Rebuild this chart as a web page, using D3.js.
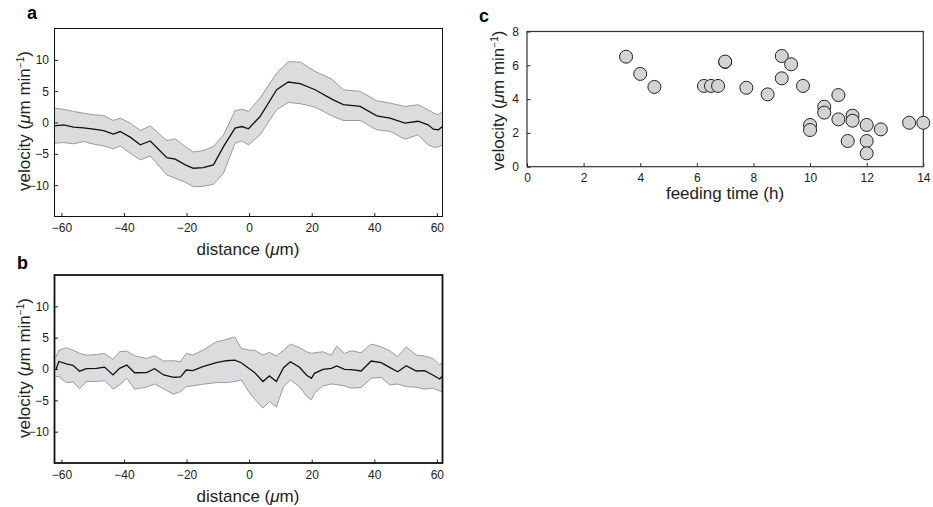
<!DOCTYPE html>
<html>
<head>
<meta charset="utf-8">
<script src="https://cdn.jsdelivr.net/npm/d3@7"></script>
<style>
  body { margin: 0; background: #fff; }
  svg { display: block; font-family: "Liberation Sans", Arial, sans-serif; }
</style>
</head>
<body>
<div id="chart"></div>
<script>
// panel a: velocity profile, mean and band
const aDist = [-62.2, -59.3, -56.1, -52.9, -49.7, -46.5, -43.4, -41.2, -38.0, -34.8, -31.6, -26.3, -23.6, -20.4, -17.8, -14.7, -11.4, -8.2, -4.5, -2.3, -0.2, 3.5, 8.8, 12.5, 16.3, 21.1, 26.4, 30.1, 35.5, 40.8, 45.0, 49.8, 54.0, 57.2, 58.9, 60.5, 61.8];
const aMean = [-0.55, -0.37, -0.74, -0.85, -1.06, -1.28, -1.86, -1.44, -2.34, -3.57, -2.95, -5.6, -5.86, -6.77, -7.3, -7.2, -6.77, -3.84, -0.9, -0.64, -1.0, 0.96, 5.23, 6.46, 6.19, 5.23, 3.74, 2.85, 2.56, 1.07, 0.7, -0.1, 0.2, -0.37, -1.06, -1.17, -0.64];
const aUpper = [2.3, 2.1, 1.76, 1.5, 1.23, 1.12, 0.32, 0.7, -0.1, -1.28, -0.53, -2.9, -2.6, -3.84, -4.7, -4.5, -3.84, -2.0, 1.87, 2.14, 1.76, 3.9, 7.9, 9.7, 9.66, 8.16, 6.94, 5.23, 4.96, 3.47, 3.1, 2.56, 2.83, 2.03, 1.5, 1.23, 1.76];
const aLower = [-3.3, -3.2, -3.4, -3.04, -3.46, -3.73, -4.2, -3.73, -4.9, -5.97, -5.33, -8.37, -8.9, -9.54, -10.24, -10.2, -9.86, -8.1, -3.3, -2.93, -3.57, -1.97, 2.03, 3.2, 3.0, 2.46, 1.07, 0.32, 0.32, -1.17, -1.4, -2.66, -1.97, -3.57, -3.94, -3.9, -3.57];

// panel b
const bDist = [-61.8, -60.8, -58.4, -56.3, -54.2, -52.0, -48.8, -46.2, -43.5, -41.4, -39.1, -36.6, -32.8, -30.2, -27.3, -24.1, -21.9, -20.1, -18.0, -14.8, -10.5, -7.3, -4.6, -2.5, 0.2, 1.8, 4.4, 6.5, 8.7, 11.0, 13.2, 16.1, 18.4, 19.9, 20.9, 23.6, 26.3, 28.0, 30.5, 32.7, 35.8, 39.0, 42.2, 44.9, 47.5, 50.2, 53.4, 56.1, 58.7, 60.9, 61.8];
const bMean = [-0.16, 1.2, 0.8, 0.6, -0.35, 0.05, 0.1, 0.3, -0.95, 0.1, 0.63, -0.6, -0.58, 0.05, -0.95, -1.32, -1.27, -0.16, -0.26, 0.37, 1.0, 1.32, 1.43, 1.0, 0.0, -0.58, -2.0, -1.11, -2.0, 0.2, 1.16, 0.27, -1.0, -1.48, -0.69, -0.05, 0.1, 0.48, -0.05, -0.1, -0.32, 1.27, 1.0, 0.27, -0.45, 0.53, -0.32, -0.26, -0.95, -1.59, -1.11];
const bUpper = [1.9, 3.0, 3.4, 3.0, 2.5, 2.2, 2.3, 2.49, 1.54, 2.75, 2.86, 2.12, 1.69, 2.12, 1.27, 1.32, 1.16, 2.49, 2.22, 3.0, 4.33, 4.7, 5.13, 3.28, 3.0, 3.0, 2.22, 2.65, 2.06, 3.0, 3.97, 3.44, 2.75, 2.49, 2.59, 2.75, 2.22, 3.65, 2.49, 2.91, 2.59, 3.97, 3.55, 2.91, 1.96, 3.55, 2.22, 2.06, 1.69, 0.63, 1.16];
const bLower = [-1.2, -1.22, -2.17, -2.06, -3.17, -2.0, -2.0, -1.85, -3.22, -2.54, -1.48, -3.22, -2.9, -2.38, -3.17, -4.02, -3.6, -2.8, -2.7, -2.43, -2.17, -2.17, -2.0, -1.75, -3.86, -4.8, -6.24, -5.19, -6.08, -2.8, -1.75, -2.8, -4.39, -4.92, -3.86, -2.7, -2.38, -2.5, -2.7, -3.06, -2.95, -1.48, -1.32, -2.54, -2.4, -2.8, -2.9, -3.22, -3.06, -3.5, -3.6];

// panel c: velocity vs feeding time
const feedTime = [3.5, 4.0, 4.5, 6.25, 6.5, 6.75, 7.0, 7.0, 7.75, 8.5, 9.0, 9.33, 9.0, 9.75, 10.0, 10.0, 10.5, 10.5, 11.0, 11.0, 11.33, 11.5, 11.5, 12.0, 12.0, 12.0, 12.5, 13.5, 14.0];
const feedVel = [6.51, 5.49, 4.72, 4.78, 4.78, 4.78, 6.2, 6.22, 4.67, 4.28, 6.55, 6.06, 5.23, 4.78, 2.47, 2.17, 3.55, 3.2, 4.24, 2.8, 1.52, 3.02, 2.72, 2.47, 1.52, 0.79, 2.21, 2.6, 2.6];

const distTicks = [-60, -40, -20, 0, 20, 40, 60];
const velTicks = [-10, -5, 0, 5, 10];
const timeTicks = [0, 2, 4, 6, 8, 10, 12, 14];
const feedVelTicks = [0, 2, 4, 6, 8];

const svg = d3.select("#chart")
    .append("svg")
    .attr("width", 933)
    .attr("height", 507);

function velocityTitle(x, y) {
    const t = svg.append("text")
        .attr("transform", `translate(${x},${y}) rotate(-90)`)
        .attr("text-anchor", "middle")
        .attr("fill", "#222")
        .style("font-size", "17px");
    t.append("tspan").text("velocity (");
    t.append("tspan").style("font-style", "italic").text("μ");
    t.append("tspan").text("m min");
    t.append("tspan").attr("dy", -6).style("font-size", "10px").text("−1");
    t.append("tspan").attr("dy", 6).text(")");
}

function distanceTitle(x, y) {
    const t = svg.append("text")
        .attr("x", x)
        .attr("y", y)
        .attr("text-anchor", "middle")
        .attr("fill", "#222")
        .style("font-size", "17px");
    t.append("tspan").text("distance (");
    t.append("tspan").style("font-style", "italic").text("μ");
    t.append("tspan").text("m)");
}

function panelTag(label, x, y) {
    svg.append("text")
        .attr("x", x)
        .attr("y", y)
        .style("font-size", "18px")
        .style("font-weight", "bold")
        .text(label);
}

function styleAxis(g) {
    g.select(".domain").remove();
    g.selectAll(".tick line").attr("stroke", "#222");
    g.selectAll(".tick text").attr("fill", "#222").style("font-size", "12px");
}

function profilePanel(id, top, dist, mean, upper, lower, frameWidth) {
    const h = 188;
    const x = d3.scaleLinear().domain([-62.2, 61.8]).range([54.5, 442.5]);
    const y = d3.scaleLinear().domain([-15, 15]).range([top + h, top]);

    const rows = dist.map((d, i) => ({ d: d, m: mean[i], u: upper[i], l: lower[i] }));

    svg.append("clipPath").attr("id", id)
        .append("rect")
        .attr("x", x.range()[0]).attr("y", top)
        .attr("width", x.range()[1] - x.range()[0]).attr("height", h);

    const g = svg.append("g").attr("clip-path", `url(#${id})`);

    // shaded band
    g.append("path")
        .datum(rows)
        .attr("fill", "#dcdcde")
        .attr("d", d3.area().x(r => x(r.d)).y0(r => y(r.l)).y1(r => y(r.u)));

    g.append("path").datum(rows)
        .attr("fill", "none").attr("stroke", "#9a9a9a").attr("stroke-width", 1)
        .attr("d", d3.line().x(r => x(r.d)).y(r => y(r.u)));

    g.append("path").datum(rows)
        .attr("fill", "none").attr("stroke", "#9a9a9a").attr("stroke-width", 1)
        .attr("d", d3.line().x(r => x(r.d)).y(r => y(r.l)));

    // mean
    g.append("path").datum(rows)
        .attr("fill", "none").attr("stroke", "#111").attr("stroke-width", 1.3)
        .attr("d", d3.line().x(r => x(r.d)).y(r => y(r.m)));

    // axes, ticks pointing inward
    svg.append("g")
        .attr("transform", `translate(0,${top + h})`)
        .call(d3.axisBottom(x).tickValues(distTicks).tickSize(-3.5).tickPadding(7))
        .call(styleAxis);

    svg.append("g")
        .attr("transform", `translate(${x.range()[0]},0)`)
        .call(d3.axisLeft(y).tickValues(velTicks).tickSize(-3.5).tickPadding(5.5))
        .call(styleAxis);

    svg.append("rect")
        .attr("x", x.range()[0]).attr("y", top)
        .attr("width", x.range()[1] - x.range()[0]).attr("height", h)
        .attr("fill", "none").attr("stroke", "#111").attr("stroke-width", frameWidth);
}

profilePanel("clipA", 28.5, aDist, aMean, aUpper, aLower, 1);
profilePanel("clipB", 275, bDist, bMean, bUpper, bLower, 1.8);

panelTag("a", 27, 18.5);
panelTag("b", 17, 269);
panelTag("c", 479, 21.5);

velocityTitle(30, 121);
velocityTitle(30, 368);
distanceTitle(248, 255);
distanceTitle(248, 501.5);

// panel c scatter
const xc = d3.scaleLinear().domain([0, 14]).range([527, 923.3]);
const yc = d3.scaleLinear().domain([0, 8]).range([166.7, 31.5]);

svg.append("g")
    .attr("transform", `translate(0,${yc.range()[0]})`)
    .call(d3.axisBottom(xc).tickValues(timeTicks).tickSize(-3.5).tickPadding(7))
    .call(styleAxis);

svg.append("g")
    .attr("transform", `translate(${xc.range()[0]},0)`)
    .call(d3.axisLeft(yc).tickValues(feedVelTicks).tickSize(-3.5).tickPadding(8))
    .call(styleAxis);

svg.append("rect")
    .attr("x", xc.range()[0]).attr("y", yc.range()[1])
    .attr("width", xc.range()[1] - xc.range()[0])
    .attr("height", yc.range()[0] - yc.range()[1])
    .attr("fill", "none").attr("stroke", "#333").attr("stroke-width", 1.2);

svg.append("g")
    .selectAll("circle")
    .data(feedTime.map((t, i) => ({ t: t, v: feedVel[i] })))
    .enter()
    .append("circle")
    .attr("cx", d => xc(d.t))
    .attr("cy", d => yc(d.v))
    .attr("r", 6.5)
    .attr("fill", "#d3d3d3")
    .attr("stroke", "#222")
    .attr("stroke-width", 1);

velocityTitle(504, 100.5);

svg.append("text")
    .attr("x", 725)
    .attr("y", 199)
    .attr("text-anchor", "middle")
    .attr("fill", "#222")
    .style("font-size", "17px")
    .text("feeding time (h)");
</script>
</body>
</html>
